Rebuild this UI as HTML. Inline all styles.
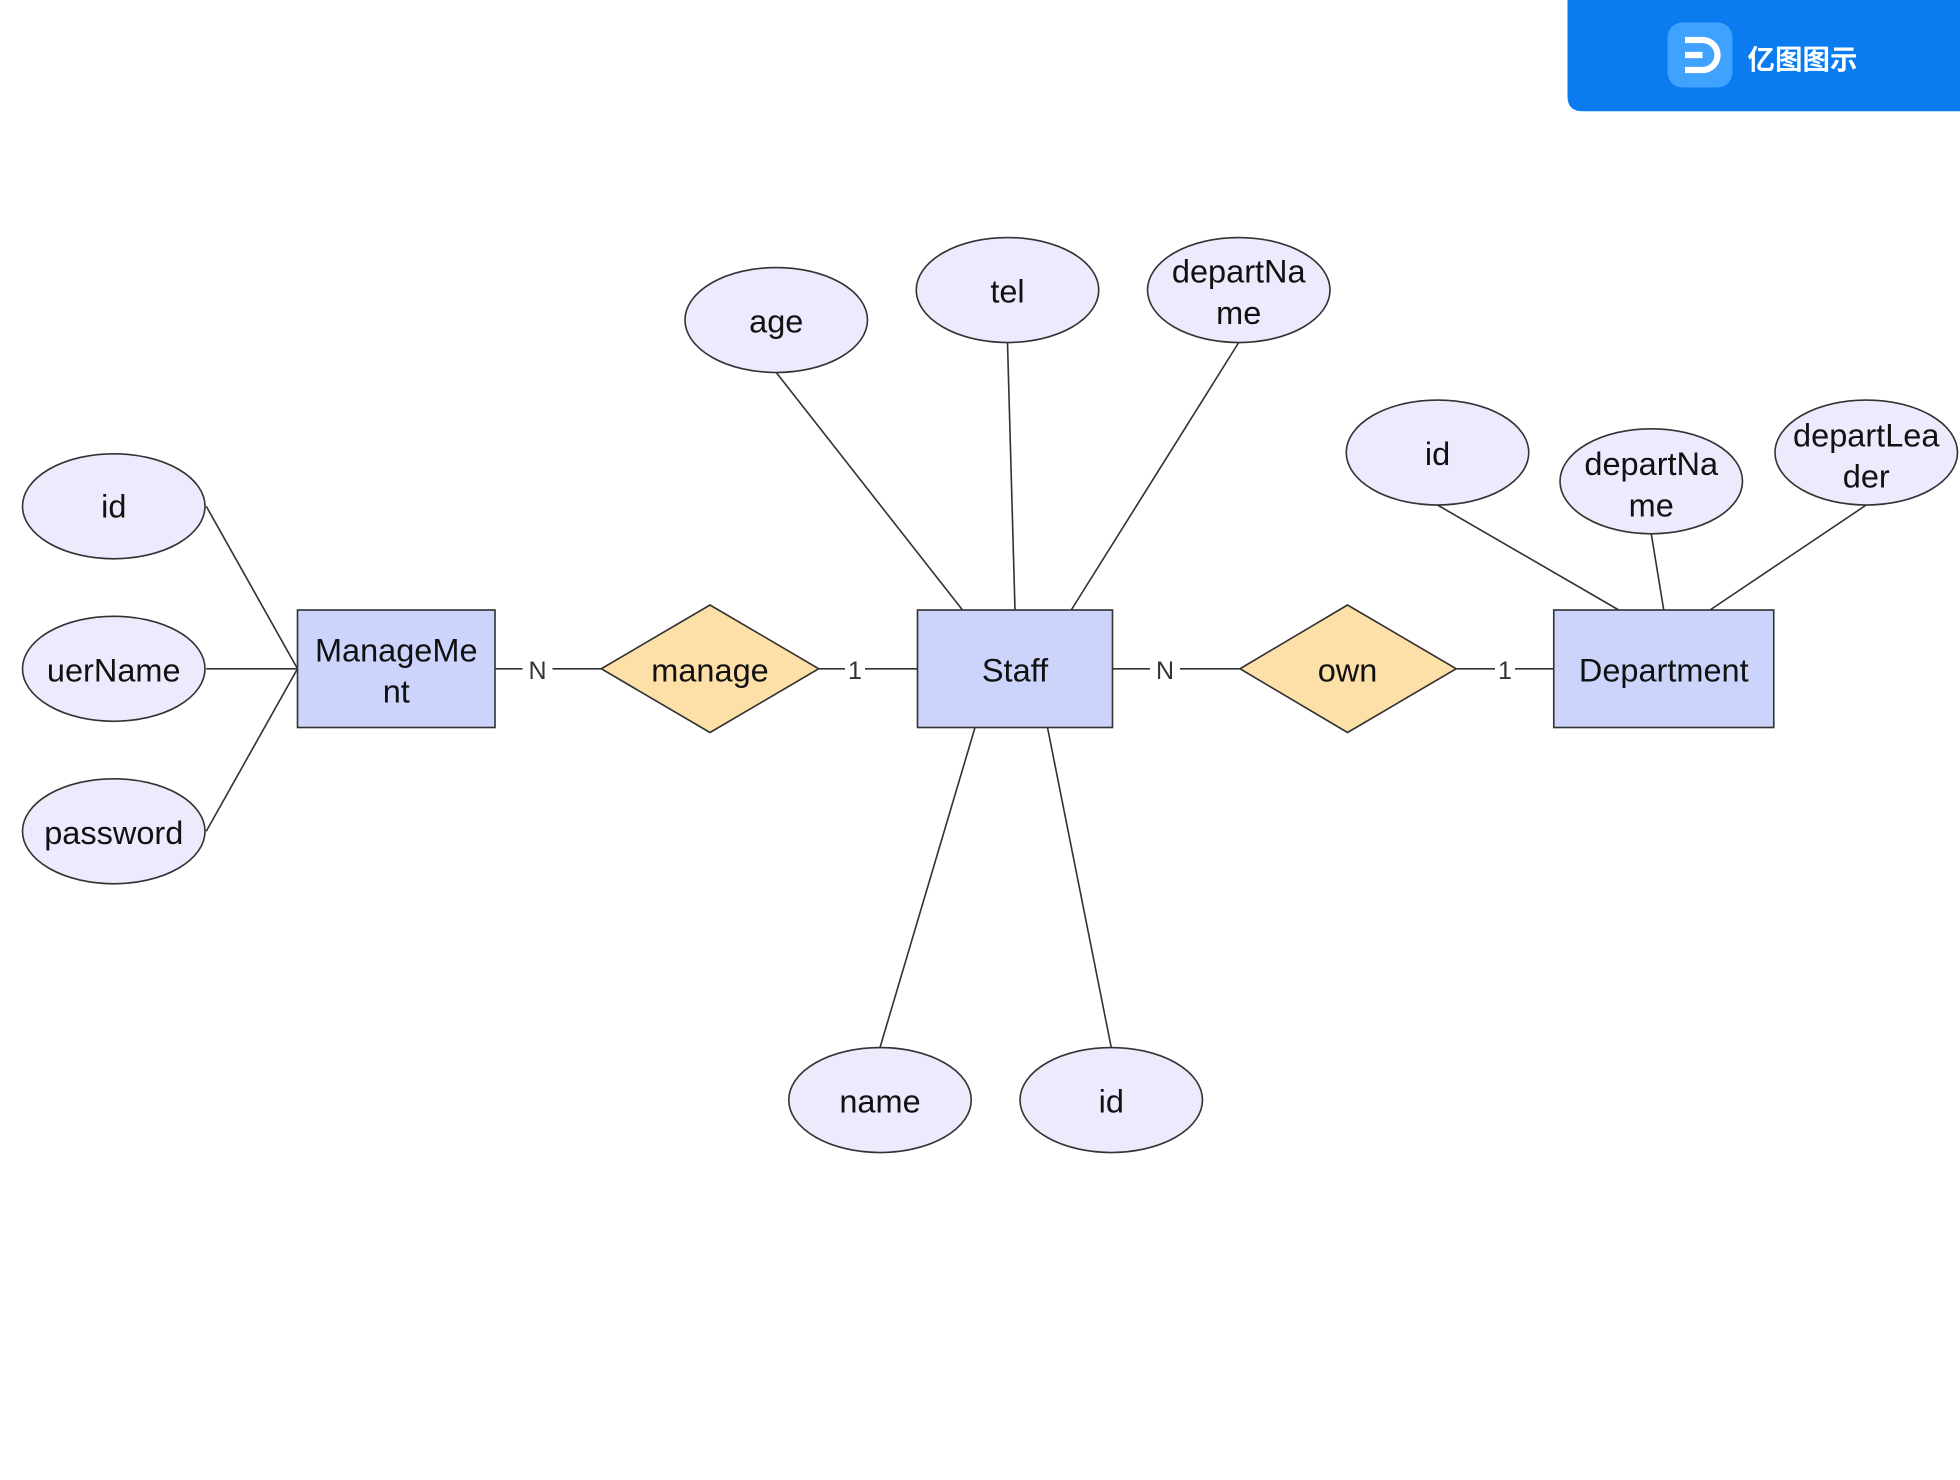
<!DOCTYPE html>
<html><head><meta charset="utf-8"><style>html,body{margin:0;padding:0;background:#fff;}svg{display:block}</style></head>
<body>
<svg width="1960" height="1480" viewBox="0 0 1568 1184" xmlns="http://www.w3.org/2000/svg" font-family="'Liberation Sans','Noto Sans CJK SC',sans-serif">
<rect width="1568" height="1184" fill="#fff"/>
<path d="M1254 0 H1568 V89 H1266 Q1254 89 1254 77 Z" fill="#0a7cf0"/>
<rect x="1334" y="18" width="52" height="52" rx="12" fill="#3fa2ff"/>
<path d="M1348 32 H1362 A12 12 0 0 1 1362 56 H1348" fill="none" stroke="#fff" stroke-width="5"/>
<line x1="1348" y1="44" x2="1362" y2="44" stroke="#fff" stroke-width="5"/>
<text x="1398" y="55" font-size="22" font-weight="bold" fill="#fff">亿图图示</text>
<g stroke="#333" stroke-width="1.3" fill="none">
<line x1="165" y1="405" x2="238" y2="535"/><line x1="165" y1="535" x2="238" y2="535"/><line x1="165" y1="665" x2="238" y2="535"/>
<line x1="396" y1="535" x2="418" y2="535"/><line x1="442" y1="535" x2="481" y2="535"/>
<line x1="655" y1="535" x2="676" y2="535"/><line x1="692" y1="535" x2="734" y2="535"/>
<line x1="890" y1="535" x2="920" y2="535"/><line x1="944" y1="535" x2="992" y2="535"/>
<line x1="1165" y1="535" x2="1196" y2="535"/><line x1="1212" y1="535" x2="1243" y2="535"/>
<line x1="621" y1="298" x2="770" y2="488"/><line x1="806" y1="274" x2="812" y2="488"/><line x1="991" y1="274" x2="857" y2="488"/>
<line x1="704" y1="838" x2="780" y2="582"/><line x1="889" y1="838" x2="838" y2="582"/>
<line x1="1150" y1="404" x2="1295" y2="488"/><line x1="1321" y1="427" x2="1331" y2="488"/><line x1="1493" y1="404" x2="1368" y2="488"/>
</g>
<g fill="#ebebfd" stroke="#333" stroke-width="1.3">
<ellipse cx="91" cy="405" rx="73" ry="42"/><ellipse cx="91" cy="535" rx="73" ry="42"/><ellipse cx="91" cy="665" rx="73" ry="42"/>
<ellipse cx="621" cy="256" rx="73" ry="42"/><ellipse cx="806" cy="232" rx="73" ry="42"/><ellipse cx="991" cy="232" rx="73" ry="42"/>
<ellipse cx="1150" cy="362" rx="73" ry="42"/><ellipse cx="1321" cy="385" rx="73" ry="42"/><ellipse cx="1493" cy="362" rx="73" ry="42"/>
<ellipse cx="704" cy="880" rx="73" ry="42"/><ellipse cx="889" cy="880" rx="73" ry="42"/>
</g>
<g fill="#ccd4fb" stroke="#333" stroke-width="1.3">
<rect x="238" y="488" width="158" height="94"/><rect x="734" y="488" width="156" height="94"/><rect x="1243" y="488" width="176" height="94"/>
</g>
<g fill="#fde0a8" stroke="#333" stroke-width="1.3">
<polygon points="481,535 568,484 655,535 568,586"/><polygon points="992,535 1078,484 1165,535 1078,586"/>
</g>
<g font-size="26" fill="#111" text-anchor="middle">
<text x="91" y="414">id</text><text x="91" y="545">uerName</text><text x="91" y="675">password</text>
<text x="621" y="266">age</text><text x="806" y="242">tel</text>
<text x="991" y="226">departNa</text><text x="991" y="259">me</text>
<text x="1150" y="372">id</text>
<text x="1321" y="380">departNa</text><text x="1321" y="413">me</text>
<text x="1493" y="357">departLea</text><text x="1493" y="390">der</text>
<text x="704" y="890">name</text><text x="889" y="890">id</text>
<text x="317" y="529">ManageMe</text><text x="317" y="562">nt</text>
<text x="812" y="545">Staff</text><text x="1331" y="545">Department</text>
<text x="568" y="545">manage</text><text x="1078" y="545">own</text>
</g>
<g font-size="20" fill="#333" text-anchor="middle">
<text x="430" y="543">N</text><text x="684" y="543">1</text><text x="932" y="543">N</text><text x="1204" y="543">1</text>
</g>
</svg>
</body></html>
